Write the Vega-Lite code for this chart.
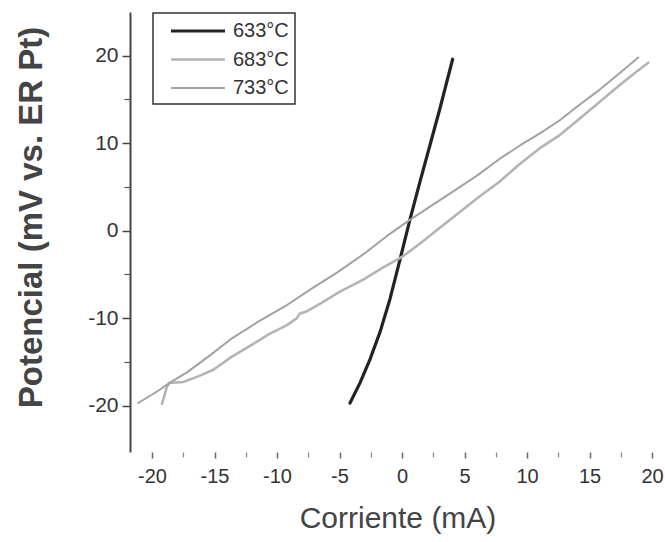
{
  "$schema": "https://vega.github.io/schema/vega-lite/v6.json",
  "autosize": "none",
  "width": 535,
  "height": 440,
  "padding": {"left": 130, "top": 12, "right": 0, "bottom": 90},
  "background": "white",
  "config": {
    "font": "Liberation Sans",
    "view": {"stroke": null},
    "legend": {
      "orient": "none",
      "legendX": 23,
      "legendY": 1,
      "strokeColor": "#333",
      "strokeWidth": 1.5,
      "padding": 6,
      "symbolType": "M0,0H5.4",
      "symbolSize": 400,
      "labelOffset": 50,
      "labelFontSize": 20,
      "labelColor": "#333",
      "rowPadding": 7,
      "titlePadding": 0
    }
  },
  "data": {
    "values": [
      {"series": "633°C", "i": 1, "x": -4.16, "y": -19.7},
      {"series": "633°C", "i": 2, "x": -3.36, "y": -17.4},
      {"series": "633°C", "i": 3, "x": -2.56, "y": -14.7},
      {"series": "633°C", "i": 4, "x": -1.76, "y": -11.6},
      {"series": "633°C", "i": 5, "x": -0.96, "y": -7.8},
      {"series": "633°C", "i": 6, "x": -0.16, "y": -3.3},
      {"series": "633°C", "i": 7, "x": 0.64, "y": 1.3},
      {"series": "633°C", "i": 8, "x": 1.44, "y": 5.6},
      {"series": "633°C", "i": 9, "x": 2.24, "y": 9.8},
      {"series": "633°C", "i": 10, "x": 3.04, "y": 14.0},
      {"series": "633°C", "i": 11, "x": 4.05, "y": 19.6},

      {"series": "683°C", "i": 1, "x": -19.2, "y": -19.8},
      {"series": "683°C", "i": 2, "x": -19.0, "y": -18.8},
      {"series": "683°C", "i": 3, "x": -18.8, "y": -17.8},
      {"series": "683°C", "i": 4, "x": -18.6, "y": -17.4},
      {"series": "683°C", "i": 5, "x": -17.5, "y": -17.3},
      {"series": "683°C", "i": 6, "x": -16.2, "y": -16.6},
      {"series": "683°C", "i": 7, "x": -15.1, "y": -15.9},
      {"series": "683°C", "i": 8, "x": -13.6, "y": -14.4},
      {"series": "683°C", "i": 9, "x": -12.2, "y": -13.2},
      {"series": "683°C", "i": 10, "x": -10.6, "y": -11.8},
      {"series": "683°C", "i": 11, "x": -9.2, "y": -10.8},
      {"series": "683°C", "i": 12, "x": -8.4, "y": -10.0},
      {"series": "683°C", "i": 13, "x": -8.2, "y": -9.5},
      {"series": "683°C", "i": 14, "x": -7.6, "y": -9.2},
      {"series": "683°C", "i": 15, "x": -6.5, "y": -8.3},
      {"series": "683°C", "i": 16, "x": -5.0, "y": -7.0},
      {"series": "683°C", "i": 17, "x": -3.1, "y": -5.6},
      {"series": "683°C", "i": 18, "x": -1.5, "y": -4.2},
      {"series": "683°C", "i": 19, "x": 0.0, "y": -3.0},
      {"series": "683°C", "i": 20, "x": 1.5, "y": -1.4},
      {"series": "683°C", "i": 21, "x": 3.0, "y": 0.3},
      {"series": "683°C", "i": 22, "x": 4.5, "y": 2.0},
      {"series": "683°C", "i": 23, "x": 6.2, "y": 3.9},
      {"series": "683°C", "i": 24, "x": 7.8, "y": 5.6},
      {"series": "683°C", "i": 25, "x": 9.4, "y": 7.6},
      {"series": "683°C", "i": 26, "x": 11.0, "y": 9.4},
      {"series": "683°C", "i": 27, "x": 12.6, "y": 10.9},
      {"series": "683°C", "i": 28, "x": 14.2, "y": 12.8},
      {"series": "683°C", "i": 29, "x": 15.8, "y": 14.7},
      {"series": "683°C", "i": 30, "x": 17.3, "y": 16.5},
      {"series": "683°C", "i": 31, "x": 18.6, "y": 18.0},
      {"series": "683°C", "i": 32, "x": 19.7, "y": 19.2},

      {"series": "733°C", "i": 1, "x": -21.1, "y": -19.7},
      {"series": "733°C", "i": 2, "x": -19.5, "y": -18.3},
      {"series": "733°C", "i": 3, "x": -18.6, "y": -17.4},
      {"series": "733°C", "i": 4, "x": -17.2, "y": -16.2},
      {"series": "733°C", "i": 5, "x": -15.5, "y": -14.4},
      {"series": "733°C", "i": 6, "x": -13.6, "y": -12.3},
      {"series": "733°C", "i": 7, "x": -11.5, "y": -10.4},
      {"series": "733°C", "i": 8, "x": -9.2, "y": -8.5},
      {"series": "733°C", "i": 9, "x": -7.2, "y": -6.6},
      {"series": "733°C", "i": 10, "x": -5.2, "y": -4.8},
      {"series": "733°C", "i": 11, "x": -3.0, "y": -2.6},
      {"series": "733°C", "i": 12, "x": -1.2, "y": -0.6},
      {"series": "733°C", "i": 13, "x": 0.6, "y": 1.2},
      {"series": "733°C", "i": 14, "x": 2.3, "y": 2.8},
      {"series": "733°C", "i": 15, "x": 4.1, "y": 4.5},
      {"series": "733°C", "i": 16, "x": 6.0, "y": 6.3},
      {"series": "733°C", "i": 17, "x": 7.8, "y": 8.2},
      {"series": "733°C", "i": 18, "x": 9.5, "y": 9.8},
      {"series": "733°C", "i": 19, "x": 11.0, "y": 11.1},
      {"series": "733°C", "i": 20, "x": 12.6, "y": 12.6},
      {"series": "733°C", "i": 21, "x": 14.2, "y": 14.4},
      {"series": "733°C", "i": 22, "x": 15.8, "y": 16.1},
      {"series": "733°C", "i": 23, "x": 17.4, "y": 18.0},
      {"series": "733°C", "i": 24, "x": 18.9, "y": 19.8}
    ]
  },
  "resolve": {"axis": {"x": "independent", "y": "independent"}},
  "layer": [
    {
      "mark": {"type": "line", "strokeCap": "round", "strokeJoin": "round", "clip": true},
      "encoding": {
        "x": {
          "field": "x", "type": "quantitative",
          "scale": {"domain": [-21.76, 21.04], "nice": false, "zero": false},
          "axis": {
            "orient": "bottom",
            "values": [-20, -15, -10, -5, 0, 5, 10, 15, 20],
            "labelExpr": "replace(datum.label, '\u2212', '-')",
            "title": "Corriente (mA)",
            "domain": false,
            "grid": false,
            "tickSize": 6,
            "tickColor": "#666",
            "tickWidth": 1.5,
            "labelFontSize": 20,
            "labelColor": "#333",
            "labelPadding": 8,
            "titleFontSize": 30,
            "titleFontWeight": "normal",
            "titleColor": "#444",
            "titleY": 66,
            "titleBaseline": "middle"
          }
        },
        "y": {
          "field": "y", "type": "quantitative",
          "scale": {"domain": [-25.3, 25], "nice": false, "zero": false},
          "axis": {
            "orient": "left",
            "values": [-20, -10, 0, 10, 20],
            "labelExpr": "replace(datum.label, '\u2212', '-')",
            "title": "Potencial (mV vs. ER Pt)",
            "domainColor": "#444",
            "domainWidth": 2,
            "grid": false,
            "tickSize": 8,
            "tickColor": "#444",
            "tickWidth": 1.5,
            "labelFontSize": 21,
            "labelColor": "#333",
            "labelPadding": 4,
            "titleFontSize": 33,
            "titleFontWeight": "bold",
            "titleColor": "#444",
            "titleX": -99,
            "titleY": 205,
            "titleBaseline": "middle",
            "titleAlign": "center",
            "titleAngle": -90
          }
        },
        "order": {"field": "i", "type": "quantitative"},
        "color": {
          "field": "series", "type": "nominal",
          "scale": {"domain": ["633°C", "683°C", "733°C"], "range": ["#222222", "#b4b4b4", "#a2a2a2"]},
          "legend": {"title": null}
        },
        "strokeWidth": {
          "field": "series", "type": "nominal",
          "scale": {"domain": ["633°C", "683°C", "733°C"], "range": [3.2, 2, 2]},
          "legend": {"title": null}
        }
      }
    },
    {
      "mark": {"type": "line", "opacity": 0},
      "encoding": {
        "x": {
          "field": "x", "type": "quantitative",
          "axis": {
            "orient": "bottom",
            "values": [-17.5, -12.5, -7.5, -2.5, 2.5, 7.5, 12.5, 17.5],
            "labels": false,
            "title": null,
            "domain": false,
            "grid": false,
            "tickSize": 5,
            "tickColor": "#888",
            "tickWidth": 1.2
          }
        },
        "y": {
          "field": "y", "type": "quantitative",
          "axis": {
            "orient": "left",
            "values": [-15, -5, 5, 15],
            "labels": false,
            "title": null,
            "domain": false,
            "grid": false,
            "tickSize": 6,
            "tickColor": "#555",
            "tickWidth": 1.2
          }
        },
        "detail": {"field": "series", "type": "nominal"}
      }
    }
  ]
}
